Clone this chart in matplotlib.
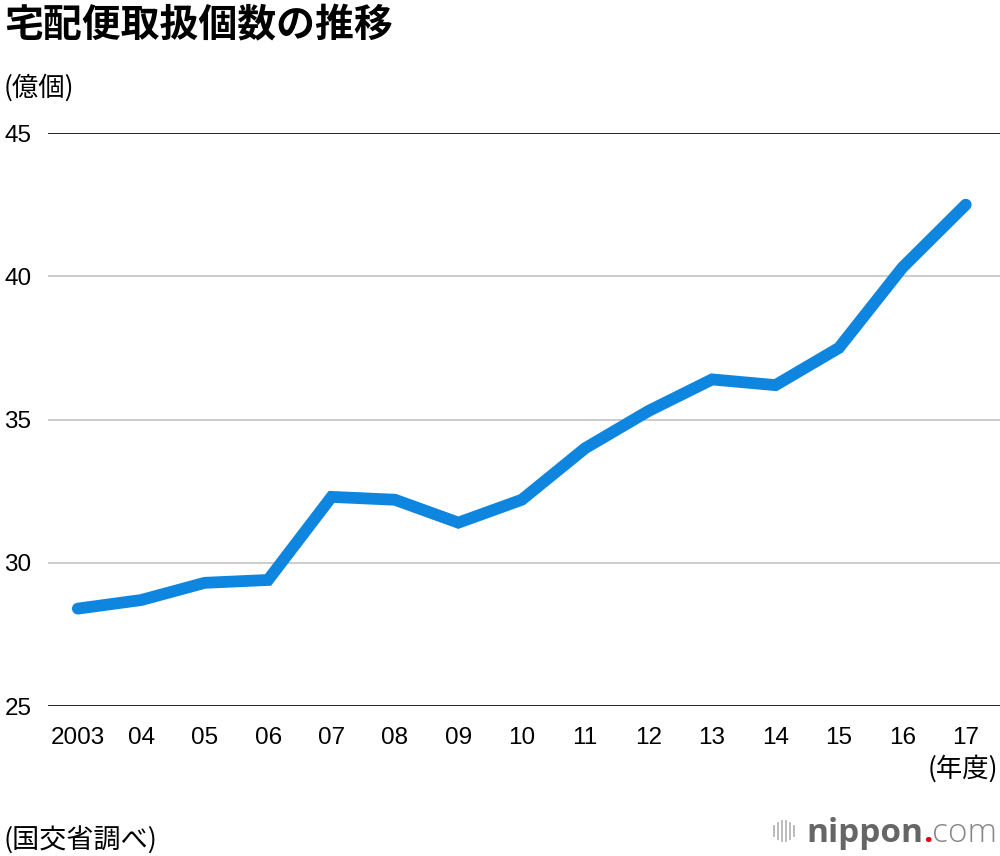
import matplotlib
matplotlib.use("Agg")
import matplotlib.pyplot as plt
from matplotlib.lines import Line2D

plt.rcParams['font.family'] = ['Noto Sans CJK JP', 'DejaVu Sans']

# 宅配便取扱個数 (億個), 年度
years = list(range(2003, 2018))
year_labels = ['2003', '04', '05', '06', '07', '08', '09', '10',
               '11', '12', '13', '14', '15', '16', '17']
parcels = [28.4, 28.7, 29.3, 29.4, 32.3, 32.2, 31.4, 32.2,
           34.0, 35.3, 36.4, 36.2, 37.5, 40.3, 42.5]
y_ticks = [25, 30, 35, 40, 45]

BLUE = '#0e86e0'
NUM_FONT = ['Liberation Sans', 'DejaVu Sans']

fig = plt.figure(figsize=(10, 8.56), dpi=100)
ax = fig.add_axes([0.048, 0.1752, 0.952, 0.6694])

# gridlines: top/bottom black, inner light gray
for v in y_ticks:
    if v in (25, 45):
        ax.axhline(v, color='black', lw=1.2, zorder=1)
    else:
        ax.axhline(v, color='#cccccc', lw=1.4, zorder=1)

ax.plot(years, parcels, color=BLUE, lw=8.5, solid_capstyle='round',
        solid_joinstyle='miter', zorder=3)

ax.set_xlim(2002.53, 2017.54)
ax.set_ylim(25, 45)
ax.set_xticks(years)
ax.set_xticklabels(year_labels, fontsize=17.5, family=NUM_FONT)
ax.set_yticks(y_ticks)
ax.set_yticklabels([str(v) for v in y_ticks], fontsize=17.5, family=NUM_FONT)
ax.tick_params(axis='x', length=0, pad=15)
ax.tick_params(axis='y', length=0, pad=12)
for s in ax.spines.values():
    s.set_visible(False)
ax.set_facecolor('none')

# texts
fig.text(0.004, 0.970, '宅配便取扱個数の推移', fontsize=28, fontweight='bold',
         ha='left', va='center')
fig.text(0.004, 0.897, '(億個)', fontsize=19, ha='left', va='center')
fig.text(0.998, 0.102, '(年度)', fontsize=19, ha='right', va='center')
fig.text(0.004, 0.018, '(国交省調べ)', fontsize=19.5, ha='left', va='center')

# nippon.com logo
bar_x = [0.774, 0.778, 0.782, 0.786, 0.790, 0.794]
bar_h = [0.006, 0.009, 0.012, 0.012, 0.009, 0.006]
for bx, bh in zip(bar_x, bar_h):
    fig.add_artist(Line2D([bx, bx], [0.029 - bh, 0.029 + bh],
                          color='#b5b5b5', lw=1.3))
t1 = fig.text(0.806, 0.026, 'nippon', fontsize=24, fontweight='bold',
              color='#666666', ha='left', va='center',
              family=['Open Sans', 'DejaVu Sans'])
fig.canvas.draw()
bb = t1.get_window_extent().transformed(fig.transFigure.inverted())
t2 = fig.text(bb.x1, 0.026, '.', fontsize=24, fontweight='bold',
              color='#e60012', ha='left', va='center',
              family=['Open Sans', 'DejaVu Sans'])
fig.canvas.draw()
bb2 = t2.get_window_extent().transformed(fig.transFigure.inverted())
fig.text(bb2.x1, 0.026, 'com', fontsize=24, fontweight='light',
         color='#888888', ha='left', va='center',
         family=['Open Sans', 'DejaVu Sans'])

fig.savefig('out.png', dpi=100, facecolor='white')
